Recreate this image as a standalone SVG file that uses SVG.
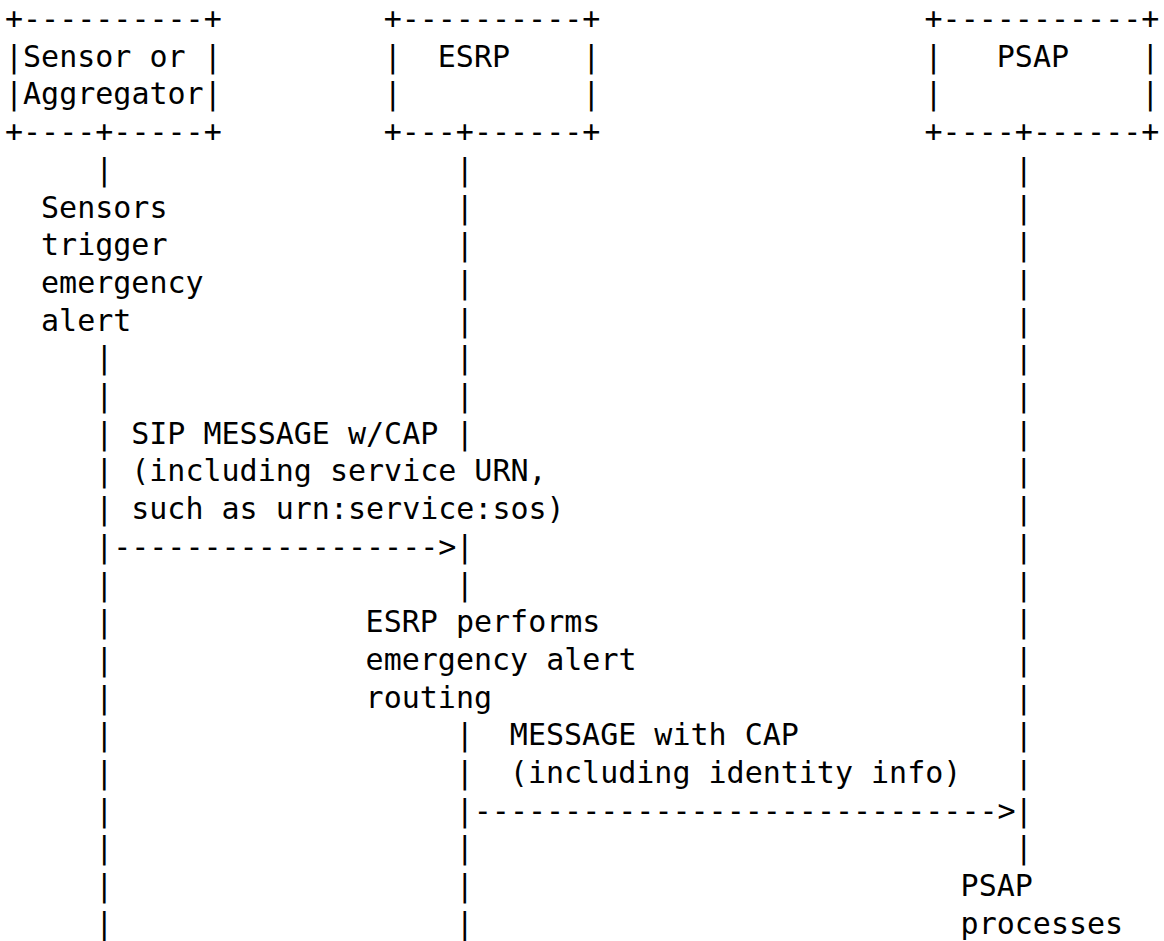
<svg xmlns="http://www.w3.org/2000/svg" xmlns:xlink="http://www.w3.org/1999/xlink" width="1164" height="941" viewBox="0 0 1164 941">
<style>
text{font-family:"DejaVu Sans Mono","Liberation Mono",monospace;font-size:30px;fill:#000;white-space:pre}
</style>
<defs>
<text id="pipe" x="0" y="0">|</text>
</defs>
<rect width="1164" height="941" fill="#fff"/>
<g id="node-sensor">
<text x="5" y="29" xml:space="preserve">+----------+</text>
<text x="5" y="66.7" xml:space="preserve">|Sensor or |</text>
<text x="5" y="104.4" xml:space="preserve">|Aggregator|</text>
<text x="5" y="142.1" xml:space="preserve">+----+-----+</text>
</g>
<g id="node-esrp">
<text x="383.63" y="29" xml:space="preserve">+----------+</text>
<text x="383.63" y="66.7" xml:space="preserve">|  ESRP    |</text>
<text x="383.63" y="104.4" xml:space="preserve">|          |</text>
<text x="383.63" y="142.1" xml:space="preserve">+---+------+</text>
</g>
<g id="node-psap">
<text x="924.53" y="29" xml:space="preserve">+-----------+</text>
<text x="924.53" y="66.7" xml:space="preserve">|   PSAP    |</text>
<text x="924.53" y="104.4" xml:space="preserve">|           |</text>
<text x="924.53" y="142.1" xml:space="preserve">+----+------+</text>
</g>
<g id="note-sensors">
<text x="41.06" y="217.5">Sensors</text>
<text x="41.06" y="255.2">trigger</text>
<text x="41.06" y="292.9">emergency</text>
<text x="41.06" y="330.6">alert</text>
</g>
<g id="note-esrp">
<text x="365.6" y="632.2">ESRP performs</text>
<text x="365.6" y="669.9">emergency alert</text>
<text x="365.6" y="707.6">routing</text>
</g>
<g id="note-psap">
<text x="960.59" y="896.1">PSAP</text>
<text x="960.59" y="933.8">processes</text>
</g>
<g id="connectors">
<g id="lifeline-sensor">
<use xlink:href="#pipe" href="#pipe" x="95.15" y="179.8"/>
<use xlink:href="#pipe" href="#pipe" x="95.15" y="368.3"/>
<use xlink:href="#pipe" href="#pipe" x="95.15" y="406"/>
<use xlink:href="#pipe" href="#pipe" x="95.15" y="443.7"/>
<use xlink:href="#pipe" href="#pipe" x="95.15" y="481.4"/>
<use xlink:href="#pipe" href="#pipe" x="95.15" y="519.1"/>
<use xlink:href="#pipe" href="#pipe" x="95.15" y="556.8"/>
<use xlink:href="#pipe" href="#pipe" x="95.15" y="594.5"/>
<use xlink:href="#pipe" href="#pipe" x="95.15" y="632.2"/>
<use xlink:href="#pipe" href="#pipe" x="95.15" y="669.9"/>
<use xlink:href="#pipe" href="#pipe" x="95.15" y="707.6"/>
<use xlink:href="#pipe" href="#pipe" x="95.15" y="745.3"/>
<use xlink:href="#pipe" href="#pipe" x="95.15" y="783"/>
<use xlink:href="#pipe" href="#pipe" x="95.15" y="820.7"/>
<use xlink:href="#pipe" href="#pipe" x="95.15" y="858.4"/>
<use xlink:href="#pipe" href="#pipe" x="95.15" y="896.1"/>
<use xlink:href="#pipe" href="#pipe" x="95.15" y="933.8"/>
</g>
<g id="lifeline-esrp">
<use xlink:href="#pipe" href="#pipe" x="455.75" y="179.8"/>
<use xlink:href="#pipe" href="#pipe" x="455.75" y="217.5"/>
<use xlink:href="#pipe" href="#pipe" x="455.75" y="255.2"/>
<use xlink:href="#pipe" href="#pipe" x="455.75" y="292.9"/>
<use xlink:href="#pipe" href="#pipe" x="455.75" y="330.6"/>
<use xlink:href="#pipe" href="#pipe" x="455.75" y="368.3"/>
<use xlink:href="#pipe" href="#pipe" x="455.75" y="406"/>
<use xlink:href="#pipe" href="#pipe" x="455.75" y="443.7"/>
<use xlink:href="#pipe" href="#pipe" x="455.75" y="556.8"/>
<use xlink:href="#pipe" href="#pipe" x="455.75" y="594.5"/>
<use xlink:href="#pipe" href="#pipe" x="455.75" y="745.3"/>
<use xlink:href="#pipe" href="#pipe" x="455.75" y="783"/>
<use xlink:href="#pipe" href="#pipe" x="455.75" y="820.7"/>
<use xlink:href="#pipe" href="#pipe" x="455.75" y="858.4"/>
<use xlink:href="#pipe" href="#pipe" x="455.75" y="896.1"/>
<use xlink:href="#pipe" href="#pipe" x="455.75" y="933.8"/>
</g>
<g id="lifeline-psap">
<use xlink:href="#pipe" href="#pipe" x="1014.68" y="179.8"/>
<use xlink:href="#pipe" href="#pipe" x="1014.68" y="217.5"/>
<use xlink:href="#pipe" href="#pipe" x="1014.68" y="255.2"/>
<use xlink:href="#pipe" href="#pipe" x="1014.68" y="292.9"/>
<use xlink:href="#pipe" href="#pipe" x="1014.68" y="330.6"/>
<use xlink:href="#pipe" href="#pipe" x="1014.68" y="368.3"/>
<use xlink:href="#pipe" href="#pipe" x="1014.68" y="406"/>
<use xlink:href="#pipe" href="#pipe" x="1014.68" y="443.7"/>
<use xlink:href="#pipe" href="#pipe" x="1014.68" y="481.4"/>
<use xlink:href="#pipe" href="#pipe" x="1014.68" y="519.1"/>
<use xlink:href="#pipe" href="#pipe" x="1014.68" y="556.8"/>
<use xlink:href="#pipe" href="#pipe" x="1014.68" y="594.5"/>
<use xlink:href="#pipe" href="#pipe" x="1014.68" y="632.2"/>
<use xlink:href="#pipe" href="#pipe" x="1014.68" y="669.9"/>
<use xlink:href="#pipe" href="#pipe" x="1014.68" y="707.6"/>
<use xlink:href="#pipe" href="#pipe" x="1014.68" y="745.3"/>
<use xlink:href="#pipe" href="#pipe" x="1014.68" y="783"/>
<use xlink:href="#pipe" href="#pipe" x="1014.68" y="820.7"/>
<use xlink:href="#pipe" href="#pipe" x="1014.68" y="858.4"/>
</g>
<g id="msg-sip">
<text x="131.21" y="443.7">SIP MESSAGE w/CAP</text>
<text x="131.21" y="481.4">(including service URN,</text>
<text x="131.21" y="519.1">such as urn:service:sos)</text>
<text x="113.18" y="556.8">------------------&gt;</text>
</g>
<g id="msg-cap">
<text x="509.84" y="745.3">MESSAGE with CAP</text>
<text x="509.84" y="783">(including identity info)</text>
<text x="473.78" y="820.7">-----------------------------&gt;</text>
</g>
</g>
</svg>
